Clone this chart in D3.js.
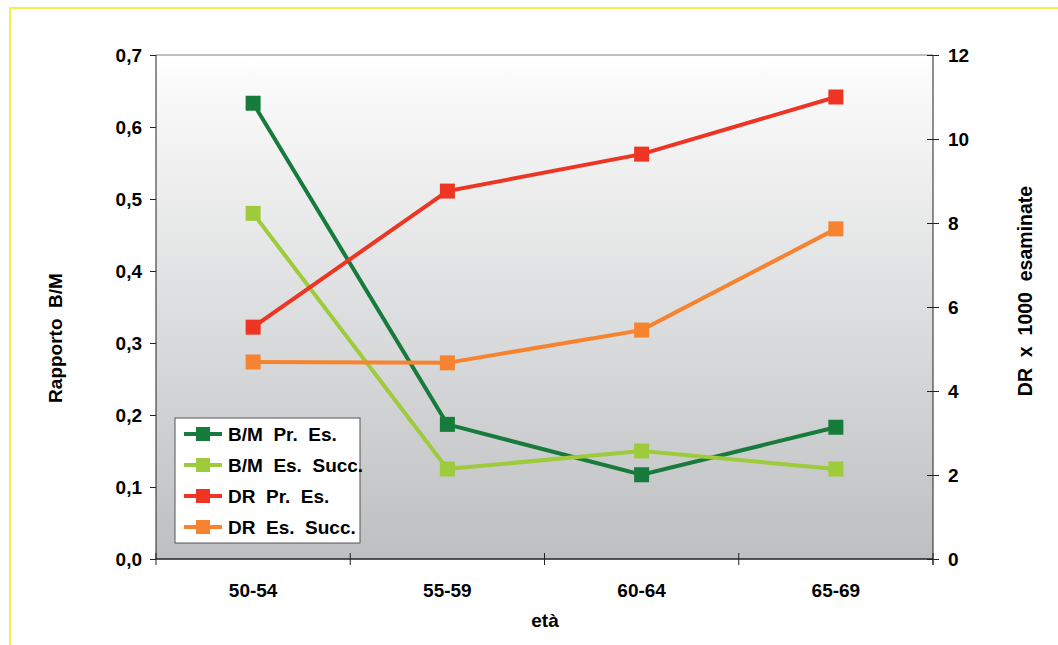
<!DOCTYPE html>
<html>
<head>
<meta charset="utf-8">
<script src="https://cdn.jsdelivr.net/npm/d3@7"></script>
<style>
  html, body { margin: 0; padding: 0; background: #fff; }
  svg { display: block; }
  text { font-family: "Liberation Sans", Arial, sans-serif; font-weight: bold; fill: #000; }
</style>
</head>
<body>
<svg id="chart" width="1058" height="645"></svg>
<script>
// Age classes (x axis)
const categories = ["50-54", "55-59", "60-64", "65-69"];

// Left axis: B/M ratio
const bmPrEs    = [0.633, 0.187, 0.117, 0.183];
const bmEsSucc  = [0.480, 0.125, 0.150, 0.125];
// Right axis: DR per 1000 examined
const drPrEs    = [5.52, 8.76, 9.64, 11.0];
const drEsSucc  = [4.69, 4.67, 5.45, 7.86];

const leftTicks  = [0, 0.1, 0.2, 0.3, 0.4, 0.5, 0.6, 0.7];
const rightTicks = [0, 2, 4, 6, 8, 10, 12];

const series = [
  { name: "B/M  Pr.  Es.",    values: bmPrEs,   axis: "left",  color: "#177b3c" },
  { name: "B/M  Es.  Succ.",  values: bmEsSucc, axis: "left",  color: "#9dcb3c" },
  { name: "DR  Pr.  Es.",     values: drPrEs,   axis: "right", color: "#ee3524" },
  { name: "DR  Es.  Succ.",   values: drEsSucc, axis: "right", color: "#f6832f" }
];

const FS = "19px";
const svg = d3.select("#chart");
const plot = { left: 156, right: 933, top: 55, bottom: 559 };

// Outer frame
svg.append("rect")
  .attr("x", 10).attr("y", 8).attr("width", 1060).attr("height", 650)
  .attr("fill", "none").attr("stroke", "#f4ee4f").attr("stroke-width", 2);

const x = d3.scaleBand().domain(categories).range([plot.left, plot.right]);
const yL = d3.scaleLinear().domain([0, 0.7]).range([plot.bottom, plot.top]);
const yR = d3.scaleLinear().domain([0, 12]).range([plot.bottom, plot.top]);

// Plot background gradient
const defs = svg.append("defs");
const grad = defs.append("linearGradient").attr("id", "bg")
  .attr("x1", 0).attr("y1", 0).attr("x2", 0).attr("y2", 1);
grad.append("stop").attr("offset", "0").attr("stop-color", "#ffffff");
grad.append("stop").attr("offset", "0.06").attr("stop-color", "#fafafa");
grad.append("stop").attr("offset", "1").attr("stop-color", "#bdbfc1");

svg.append("rect")
  .attr("x", plot.left).attr("y", plot.top)
  .attr("width", plot.right - plot.left).attr("height", plot.bottom - plot.top)
  .attr("fill", "url(#bg)");

// Top border line of plot
svg.append("line")
  .attr("x1", plot.left).attr("x2", plot.right)
  .attr("y1", plot.top).attr("y2", plot.top)
  .attr("stroke", "#808080").attr("stroke-width", 1);

// Left axis
const gL = svg.append("g").attr("transform", `translate(${plot.left},0)`)
  .call(d3.axisLeft(yL).tickValues(leftTicks)
    .tickFormat(d => d3.format(".1f")(d).replace(".", ","))
    .tickSize(6).tickPadding(8));
gL.attr("font-size", null).attr("font-family", null);
gL.select(".domain").attr("stroke", "#222").attr("d", `M0,${plot.top}V${plot.bottom}`);
gL.selectAll(".tick line").attr("stroke", "#222").attr("x2", -6).attr("x1", 0);
gL.selectAll(".tick text").style("font-size", FS).attr("dy", "0.35em");

// Right axis
const gR = svg.append("g").attr("transform", `translate(${plot.right},0)`)
  .call(d3.axisRight(yR).tickValues(rightTicks).tickSize(6).tickPadding(9));
gR.attr("font-size", null).attr("font-family", null);
gR.select(".domain").attr("stroke", "#222").attr("d", `M0,${plot.top}V${plot.bottom + 6}`);
gR.selectAll(".tick line").attr("stroke", "#222").attr("x1", -6).attr("x2", 6);
gR.selectAll(".tick text").style("font-size", FS).attr("dy", "0.35em");

// Bottom axis (ticks at category boundaries)
const gB = svg.append("g").attr("transform", `translate(0,${plot.bottom})`);
gB.append("line").attr("x1", plot.left).attr("x2", plot.right)
  .attr("stroke", "#222").attr("stroke-width", 1.5);
const bounds = categories.map(c => x(c)).concat([plot.right]);
gB.selectAll("line.tk").data(bounds).join("line").attr("class", "tk")
  .attr("x1", d => d).attr("x2", d => d).attr("y1", -6).attr("y2", 6)
  .attr("stroke", "#222");
gB.selectAll("text").data(categories).join("text")
  .attr("x", d => x(d) + x.bandwidth() / 2).attr("y", 38)
  .attr("text-anchor", "middle").style("font-size", FS).text(d => d);

// Axis titles
svg.append("text").attr("transform", "translate(62,338) rotate(-90)")
  .attr("text-anchor", "middle").style("font-size", FS)
  .style("white-space", "pre").text("Rapporto  B/M");
svg.append("text").attr("transform", "translate(1032,291) rotate(-90)")
  .attr("text-anchor", "middle").style("font-size", "19.5px")
  .style("white-space", "pre").text("DR  x  1000  esaminate");
svg.append("text").attr("x", 545).attr("y", 627)
  .attr("text-anchor", "middle").style("font-size", FS).text("età");

// Lines and markers
const cx = c => x(c) + x.bandwidth() / 2;
series.forEach(s => {
  const y = s.axis === "left" ? yL : yR;
  const pts = categories.map((c, i) => [cx(c), y(s.values[i])]);
  svg.append("path").datum(pts)
    .attr("d", d3.line())
    .attr("fill", "none").attr("stroke", s.color).attr("stroke-width", 4);
  svg.selectAll(null).data(pts).join("rect")
    .attr("x", d => d[0] - 7.5).attr("y", d => d[1] - 7.5)
    .attr("width", 15).attr("height", 15).attr("fill", s.color);
});

// Legend
const lg = svg.append("g").attr("transform", "translate(175,418)");
lg.append("rect").attr("width", 185).attr("height", 125)
  .attr("fill", "#fff").attr("stroke", "#555").attr("stroke-width", 1);
series.forEach((s, i) => {
  const yy = 16 + i * 31;
  lg.append("line").attr("x1", 9).attr("x2", 47).attr("y1", yy).attr("y2", yy)
    .attr("stroke", s.color).attr("stroke-width", 4);
  lg.append("rect").attr("x", 21).attr("y", yy - 7).attr("width", 14).attr("height", 14)
    .attr("fill", s.color);
  lg.append("text").attr("x", 53).attr("y", yy).attr("dy", "0.36em")
    .style("font-size", "19px").style("white-space", "pre").text(s.name);
});
</script>
</body>
</html>
